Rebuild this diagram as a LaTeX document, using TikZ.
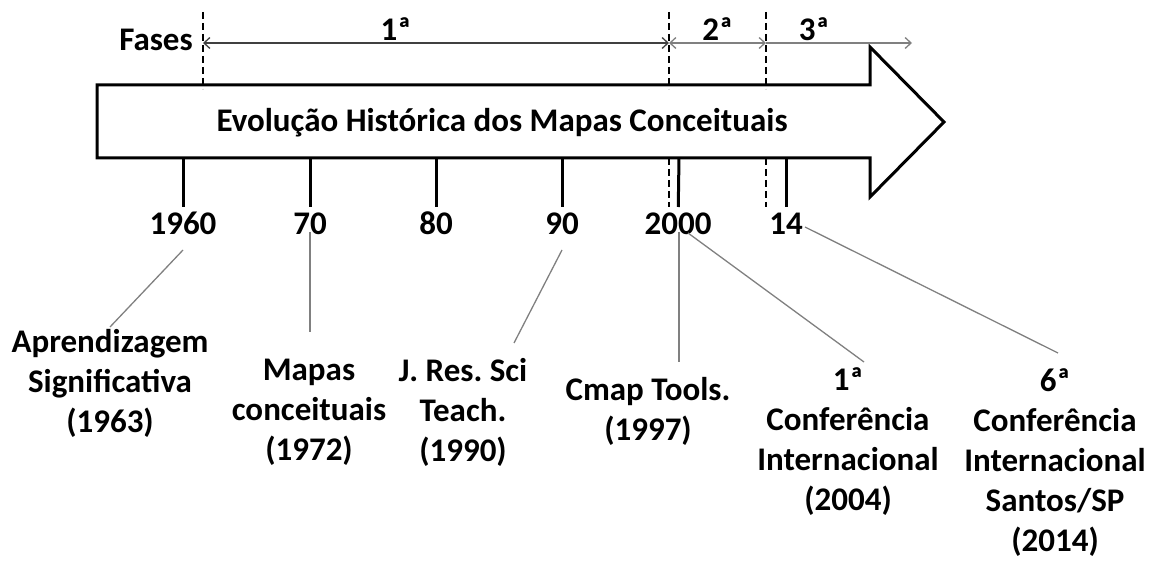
\documentclass[tikz,border=0pt]{standalone}
\usepackage{fontspec}
\setmainfont{Carlito}
\usetikzlibrary{arrows.meta}
\frenchspacing

\begin{document}
\begin{tikzpicture}[x=1pt, y=-1pt,
    lbl/.style={font=\fontsize{33}{40}\selectfont\bfseries, inner sep=0pt},
    title/.style={font=\fontsize{33}{38}\selectfont\bfseries, inner sep=0pt},
    year/.style={lbl, anchor=north, outer sep=6pt, text height=22pt, text depth=0pt},
    desc/.style={lbl, align=center},
    tick/.style={line width=3pt},
    cut/.style={line width=2pt, dash pattern=on 7pt off 4pt},
    lead/.style={draw=gray, line width=1.3pt},
    barb/.tip={Straight Barb[length=6pt,width=11pt]},
    span/.style={line width=1.3pt, barb-barb},
    open/.style={line width=1.3pt, -barb}]
  \useasboundingbox (0,0) rectangle (1158,561);

  \draw[line width=3pt] (97,85) -- (870,85) -- (870,47) -- (944,122)
    -- (870,197) -- (870,158) -- (97,158) -- cycle;
  \node[title] (evol) at (502,123) {Evolução Histórica dos Mapas Conceituais};

  \node[lbl] (fases) at (156,40) {Fases};
  \coordinate (f1) at (203,43);
  \coordinate (f2) at (669,43);
  \coordinate (f3) at (766,43);
  \coordinate (f4) at (912,43);
  \draw[cut] (203,12) -- (203,89);
  \draw[cut] (669,12) -- (669,89);
  \draw[cut] (766,12) -- (766,89);
  \draw[cut] (669,158) -- (669,207);
  \draw[cut] (766,158) -- (766,207);
  \draw[span, draw=black!75] (f1) to node[lbl, above=2pt, pos=0.414]{1ª} (f2);
  \draw[span, draw=gray] (f2) to node[lbl, above=2pt]{2ª} (f3);
  \draw[open, draw=gray] (f3) to node[lbl, above=2pt, pos=0.33]{3ª} (f4);

  \node[year] (y60) at (183,207) {1960};
  \node[year] (y70) at (310,207) {70};
  \node[year] (y80) at (436,207) {80};
  \node[year] (y90) at (562,207) {90};
  \node[year] (y00) at (678,207) {2000};
  \node[year] (y14) at (786,207) {14};
  \coordinate (t60) at (183,158);
  \coordinate (t70) at (310,158);
  \coordinate (t80) at (436,158);
  \coordinate (t90) at (562,158);
  \coordinate (t00) at (679,158);
  \coordinate (t14) at (786,158);
  \draw[tick] (t60) -- (y60);
  \draw[tick] (t70) -- (y70);
  \draw[tick] (t80) -- (y80);
  \draw[tick] (t90) -- (y90);
  \draw[tick] (t00) -- (y00);
  \draw[tick] (t14) -- (y14);

  \node[desc] (ap) at (110,383) {Aprendizagem\\Significativa\\(1963)};
  \node[desc] (mc) at (309,412) {Mapas\\conceituais\\(1972)};
  \node[desc] (jr) at (463,412) {J. Res. Sci\\Teach.\\(1990)};
  \node[desc] (cm) at (648,411) {Cmap Tools.\\(1997)};
  \node[desc] (c1) at (848,442) {1ª\\Conferência\\Internacional\\(2004)};
  \node[desc] (c6) at (1055,463) {6ª\\Conferência\\Internacional\\Santos/SP\\(2014)};

  \coordinate (s60) at (183,250);
  \coordinate (s70) at (310,232);
  \coordinate (s90) at (562,250);
  \coordinate (s97) at (679,232);
  \coordinate (s04) at (688,233);
  \coordinate (s14) at (805,227);
  \coordinate (e60) at (110,327);
  \coordinate (e70) at (310,332);
  \coordinate (e90) at (514,343);
  \coordinate (e97) at (679,362);
  \coordinate (e04) at (864,362);
  \coordinate (e14) at (1058,353);
  \draw[lead] (s60) -- (e60);
  \draw[lead] (s70) -- (e70);
  \draw[lead] (s90) -- (e90);
  \draw[lead] (s97) -- (e97);
  \draw[lead] (s04) -- (e04);
  \draw[lead] (s14) -- (e14);
\end{tikzpicture}
\end{document}
